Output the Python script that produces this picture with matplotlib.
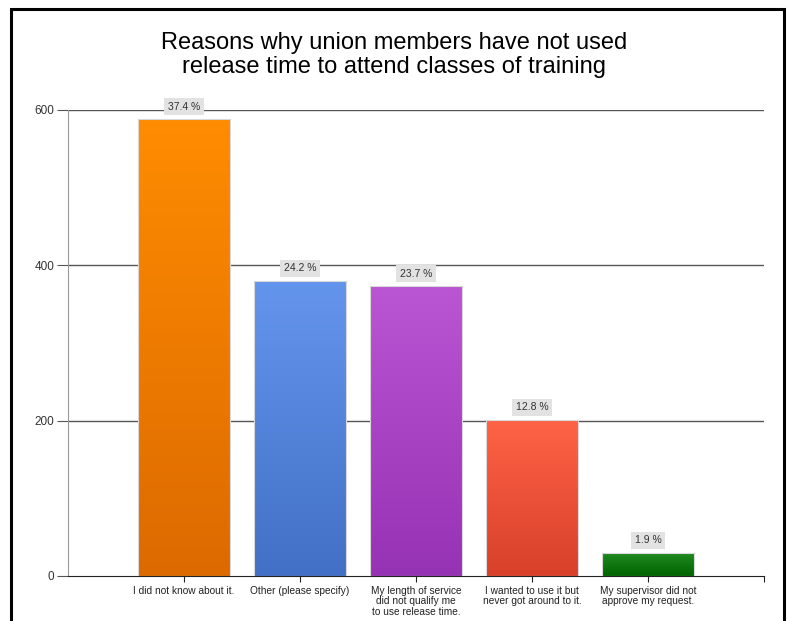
import numpy as np
import matplotlib.pyplot as plt
from matplotlib.colors import LinearSegmentedColormap
from matplotlib.patches import Rectangle

plt.rcParams['font.family'] = ['Liberation Sans', 'DejaVu Sans']

reasons = ['I did not know about it.',
           'Other (please specify)',
           'My length of service\ndid not qualify me\nto use release time.',
           'I wanted to use it but\nnever got around to it.',
           'My supervisor did not\napprove my request.']
counts = [588, 380, 373, 201, 30]
percents = [37.4, 24.2, 23.7, 12.8, 1.9]
top_colors = ['#ff8c00', '#6495ed', '#ba55d3', '#ff6347', '#228b22']
bottom_colors = ['#dc6a00', '#4270c6', '#9632b4', '#d8402a', '#006400']
yticks = [0, 200, 400, 600]

fig = plt.figure(figsize=(7.89, 6.21), dpi=100)
ax = fig.add_axes([68 / 789, 45 / 621, 696 / 789, 466 / 621])

x = np.arange(len(reasons))
bars = ax.bar(x, counts, width=0.8, facecolor='none', edgecolor='#d8d8d8',
              linewidth=0.8, zorder=3)

# vertical gradient fill for every bar, clipped to the bar shape
grad = np.linspace(1, 0, 256).reshape(-1, 1)
for patch, c_top, c_bot in zip(bars, top_colors, bottom_colors):
    cmap = LinearSegmentedColormap.from_list('g', [c_bot, c_top])
    x0 = patch.get_x()
    img = ax.imshow(grad, extent=(x0, x0 + patch.get_width(), 0, patch.get_height()),
                    aspect='auto', cmap=cmap, vmin=0, vmax=1, zorder=2)
    img.set_clip_path(patch)

for xi, h, p in zip(x, counts, percents):
    ax.annotate(f'{p} %', (xi, h), xytext=(0, 9), textcoords='offset points',
                ha='center', va='center', fontsize=7.5, color='#333333',
                bbox=dict(boxstyle='square,pad=0.35', fc='#e2e2e2', ec='none'),
                zorder=5, annotation_clip=False)

ax.set_xlim(-1, len(reasons))
ax.set_ylim(0, 600)
ax.set_yticks(yticks)
ax.set_yticklabels([str(t) for t in yticks], fontsize=8.5, color='#333333')
ax.set_xticks(list(x) + [len(reasons)])
ax.set_xticklabels(reasons + [''], fontsize=7.3, color='#222222',
                   linespacing=1.05)

for t in yticks[1:]:
    ax.axhline(t, color='#555555', linewidth=1, zorder=1)

for side in ['top', 'right']:
    ax.spines[side].set_visible(False)
ax.spines['left'].set_color('#999999')
ax.spines['bottom'].set_color('#222222')
ax.tick_params(axis='y', length=8, color='#555555', pad=2)
ax.tick_params(axis='x', length=4, color='#222222', direction='out', pad=3)

fig.text(0.5, 0.911, 'Reasons why union members have not used\n'
         'release time to attend classes of training',
         ha='center', va='center', fontsize=17, linespacing=1.1)

fig.patches.append(Rectangle((11 / 789, -0.05), 773 / 789, 1.05 - 9 / 621,
                             transform=fig.transFigure, fill=False,
                             edgecolor='black', linewidth=2.2))

fig.savefig('out.png', dpi=100)
